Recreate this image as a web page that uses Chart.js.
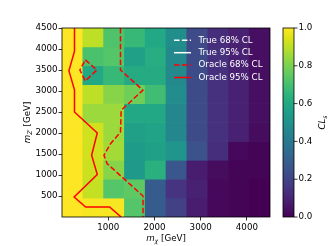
<!DOCTYPE html>
<html>
<head>
<meta charset="utf-8">
<script src="https://cdn.jsdelivr.net/npm/chart.js@4.4.1/dist/chart.umd.min.js"></script>
<style>
  html, body { margin: 0; padding: 0; background: #fff; }
  canvas { display: block; }
</style>
</head>
<body>
<canvas id="cls-chart" width="333" height="246"></canvas>
<script>
// cell centres of the scan grid (GeV)
const mChi = [225, 675, 1125, 1575, 2025, 2475, 2925, 3375, 3825, 4275];
const mZp = [225, 675, 1125, 1575, 2025, 2475, 2925, 3375, 3825, 4275];
const cellSize = 450;

// CLs values, one row per mZ' (bottom to top), columns follow mChi
const clsRows = [
    [1.00, 0.99, 0.99, 0.73, 0.29, 0.19, 0.08, 0.02, 0.01, 0.00],
    [1.00, 0.91, 0.73, 0.75, 0.29, 0.15, 0.09, 0.02, 0.01, 0.00],
    [1.00, 0.92, 0.82, 0.54, 0.63, 0.27, 0.08, 0.03, 0.01, 0.01],
    [1.00, 0.93, 0.86, 0.55, 0.57, 0.52, 0.25, 0.13, 0.02, 0.01],
    [1.00, 0.93, 0.85, 0.57, 0.58, 0.46, 0.23, 0.14, 0.09, 0.03],
    [1.00, 0.85, 0.85, 0.60, 0.60, 0.46, 0.23, 0.14, 0.09, 0.04],
    [1.00, 0.90, 0.82, 0.78, 0.69, 0.48, 0.23, 0.14, 0.09, 0.04],
    [1.00, 0.60, 0.67, 0.61, 0.61, 0.47, 0.23, 0.14, 0.09, 0.04],
    [1.00, 0.71, 0.73, 0.57, 0.62, 0.47, 0.23, 0.14, 0.09, 0.04],
    [1.00, 0.90, 0.72, 0.67, 0.60, 0.49, 0.22, 0.13, 0.09, 0.04]
];

// contour paths [mChi, mZ']
const oracle95 = [[270, 4500], [270, 3950], [150, 3480], [270, 3030], [270, 2500], [763, 2000], [641, 1470],
    [763, 1010], [262, 476], [512, 238], [1030, 238], [1280, 0]];
const oracle68 = [[1265, 4500], [1265, 3500], [1750, 3020], [1280, 2540], [1265, 2020], [1050, 1745],
    [908, 1469], [978, 1269], [1753, 500], [1753, 0]];
const oracle68Island = [[505, 3740], [753, 3500], [505, 3240], [387, 3500], [505, 3740]];
const true68 = [];
const true95 = [];

const xTicks = [1000, 2000, 3000, 4000];
const yTicks = [500, 1000, 1500, 2000, 2500, 3000, 3500, 4000, 4500];
const cbTicks = [0, 0.2, 0.4, 0.6, 0.8, 1.0];

const FONT = '"DejaVu Sans", sans-serif';

// viridis colour map, sampled every 0.05
const viridisStops = ['#440154', '#471365', '#482475', '#463480', '#414487', '#3b528b', '#355f8d',
    '#2f6c8e', '#2a788e', '#25848e', '#21918c', '#1e9c89', '#22a884', '#2fb47c', '#44bf70',
    '#5ec962', '#7ad151', '#9bd93c', '#bddf26', '#dfe318', '#fde725'];

function hexToRgb(h) {
    return [parseInt(h.slice(1, 3), 16), parseInt(h.slice(3, 5), 16), parseInt(h.slice(5, 7), 16)];
}

function viridis(v) {
    const t = Math.min(1, Math.max(0, v)) * (viridisStops.length - 1);
    const i = Math.min(Math.floor(t), viridisStops.length - 2);
    const f = t - i;
    const a = hexToRgb(viridisStops[i]);
    const b = hexToRgb(viridisStops[i + 1]);
    const c = a.map((x, k) => Math.round(x + (b[k] - x) * f));
    return `rgb(${c[0]},${c[1]},${c[2]})`;
}

function toPoints(path) {
    return path.map(p => ({ x: p[0], y: p[1] }));
}

// heatmap cells as floating bars
const cells = [];
mZp.forEach((y, r) => {
    mChi.forEach((x, c) => {
        cells.push({ x: x, y: [y - cellSize / 2, y + cellSize / 2], v: clsRows[r][c] });
    });
});

// draws e.g. m_chi [GeV] centred at (cx, cy)
function drawMathLabel(ctx, parts, cx, cy, angle) {
    ctx.save();
    ctx.translate(cx, cy);
    ctx.rotate(angle);
    const fonts = parts.map(p => (p.italic ? 'italic ' : '') + (p.sub ? '6.2px ' : '8.7px ') + FONT);
    let total = 0;
    const widths = parts.map((p, i) => {
        ctx.font = fonts[i];
        const w = ctx.measureText(p.text).width;
        total += w;
        return w;
    });
    let x = -total / 2;
    ctx.fillStyle = '#000';
    ctx.textBaseline = 'alphabetic';
    ctx.textAlign = 'left';
    parts.forEach((p, i) => {
        ctx.font = fonts[i];
        ctx.fillText(p.text, x, p.sub ? 5 : 3);
        x += widths[i];
    });
    ctx.restore();
}

const decorPlugin = {
    id: 'decor',
    afterDatasetsDraw(chart) {
        const ctx = chart.ctx;
        const area = chart.chartArea;

        // frame
        ctx.save();
        ctx.strokeStyle = '#000';
        ctx.lineWidth = 0.8;
        ctx.strokeRect(area.left, area.top, area.right - area.left, area.bottom - area.top);
        ctx.restore();

        // legend
        const seen = [];
        chart.data.datasets.forEach(ds => {
            if (ds.type === 'line' && !seen.find(e => e.label === ds.label)) seen.push(ds);
        });
        ctx.save();
        ctx.font = '8.7px ' + FONT;
        ctx.textBaseline = 'middle';
        ctx.textAlign = 'left';
        seen.forEach((ds, i) => {
            const y = area.top + 12.3 + i * 12.4;
            const x0 = area.right - 96;
            ctx.strokeStyle = ds.borderColor;
            ctx.lineWidth = ds.borderWidth;
            ctx.setLineDash(ds.borderDash || []);
            ctx.beginPath();
            ctx.moveTo(x0, y);
            ctx.lineTo(x0 + 17, y);
            ctx.stroke();
            ctx.setLineDash([]);
            ctx.fillStyle = '#fff';
            ctx.fillText(ds.label, x0 + 24.5, y);
        });
        ctx.restore();
    },
    afterDraw(chart) {
        const ctx = chart.ctx;
        const area = chart.chartArea;

        // colour bar
        const cbLeft = area.right + 13;
        const cbWidth = 11;
        const top = area.top;
        const bottom = area.bottom;
        ctx.save();
        const grad = ctx.createLinearGradient(0, bottom, 0, top);
        viridisStops.forEach((c, i) => grad.addColorStop(i / (viridisStops.length - 1), c));
        ctx.fillStyle = grad;
        ctx.fillRect(cbLeft, top, cbWidth, bottom - top);
        ctx.strokeStyle = '#000';
        ctx.lineWidth = 0.8;
        ctx.strokeRect(cbLeft, top, cbWidth, bottom - top);
        ctx.font = '8.7px ' + FONT;
        ctx.fillStyle = '#000';
        ctx.textBaseline = 'middle';
        ctx.textAlign = 'left';
        cbTicks.forEach(v => {
            const y = bottom - v * (bottom - top);
            ctx.beginPath();
            ctx.moveTo(cbLeft + cbWidth, y);
            ctx.lineTo(cbLeft + cbWidth + 3.5, y);
            ctx.stroke();
            ctx.fillText(v.toFixed(1), cbLeft + cbWidth + 4.5, y);
        });
        ctx.restore();

        drawMathLabel(ctx, [{ text: 'CL', italic: true }, { text: 's', italic: true, sub: true }],
            cbLeft + 39, (top + bottom) / 2, -Math.PI / 2);

        // axis titles
        drawMathLabel(ctx, [{ text: 'm', italic: true }, { text: 'χ', italic: true, sub: true }, { text: ' [GeV]' }],
            (area.left + area.right) / 2, 237.5, 0);
        drawMathLabel(ctx, [{ text: 'm', italic: true }, { text: 'Z′', italic: true, sub: true }, { text: ' [GeV]' }],
            27, (area.top + area.bottom) / 2, -Math.PI / 2);
    }
};

const lineStyle = { type: 'line', borderWidth: 1.5, pointRadius: 0, tension: 0, fill: false };

new Chart(document.getElementById('cls-chart'), {
    type: 'bar',
    data: {
        datasets: [
            { ...lineStyle, label: 'True 68% CL', data: toPoints(true68), borderColor: '#ffffff', borderDash: [5.5, 2.4] },
            { ...lineStyle, label: 'True 95% CL', data: toPoints(true95), borderColor: '#ffffff' },
            { ...lineStyle, label: 'Oracle 68% CL', data: toPoints(oracle68), borderColor: '#ff0000', borderDash: [5.5, 2.4] },
            { ...lineStyle, label: 'Oracle 68% CL', data: toPoints(oracle68Island), borderColor: '#ff0000', borderDash: [5.5, 2.4] },
            { ...lineStyle, label: 'Oracle 95% CL', data: toPoints(oracle95), borderColor: '#ff0000' },
            {
                type: 'bar',
                label: 'CLs',
                data: cells,
                order: 1,
                backgroundColor: c => viridis(c.raw ? c.raw.v : 0),
                borderWidth: 0,
                barPercentage: 1,
                categoryPercentage: 1,
                grouped: false
            }
        ]
    },
    options: {
        responsive: false,
        animation: false,
        devicePixelRatio: 1,
        layout: { padding: { top: 28, right: 63, left: 0, bottom: 0 } },
        plugins: { legend: { display: false }, tooltip: { enabled: false } },
        scales: {
            x: {
                type: 'linear',
                min: 0,
                max: 4500,
                offset: false,
                afterBuildTicks: s => { s.ticks = xTicks.map(v => ({ value: v })); },
                afterFit: s => { s.height = 29; },
                grid: { display: true, offset: false, drawOnChartArea: false, drawTicks: true, tickLength: 3.5, color: '#000', lineWidth: 0.8 },
                border: { display: false },
                ticks: { font: { family: FONT, size: 8.7 }, color: '#000', padding: 2, maxRotation: 0, callback: v => String(v) }
            },
            y: {
                type: 'linear',
                min: 0,
                max: 4500,
                afterBuildTicks: s => { s.ticks = yTicks.map(v => ({ value: v })); },
                afterFit: s => { s.width = 62; },
                grid: { display: true, drawOnChartArea: false, drawTicks: true, tickLength: 3.5, color: '#000', lineWidth: 0.8 },
                border: { display: false },
                ticks: { font: { family: FONT, size: 8.7 }, color: '#000', padding: 1, callback: v => String(v) }
            }
        }
    },
    plugins: [decorPlugin]
});
</script>
</body>
</html>
